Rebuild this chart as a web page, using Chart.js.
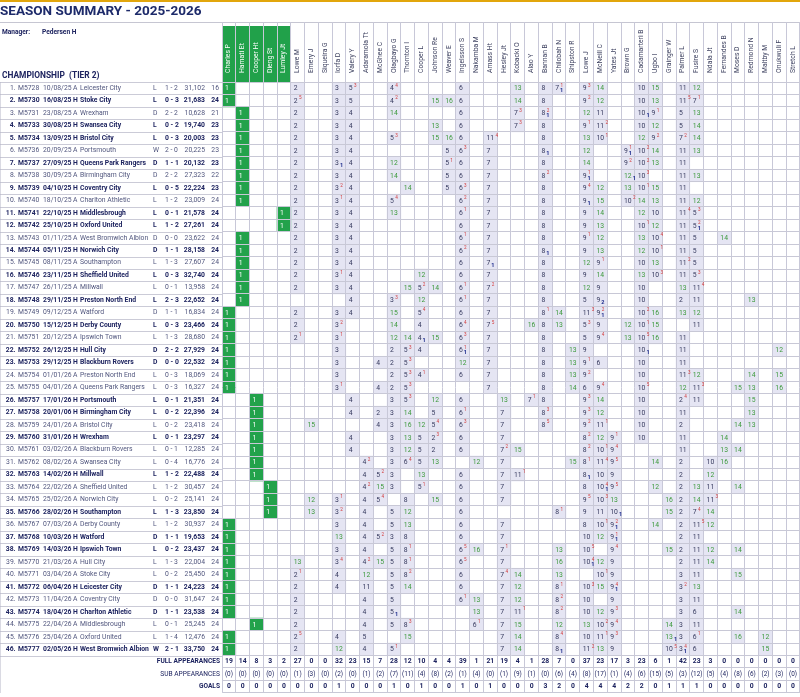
<!DOCTYPE html>
<html>
<head>
<meta charset="utf-8">
<title>Season Summary 2025-2026</title>
<script src="https://cdn.jsdelivr.net/npm/chart.js@4.4.1/dist/chart.umd.min.js"></script>
<style>
  html, body { margin: 0; padding: 0; background: #fff; overflow: hidden; }
  #wrap { position: relative; width: 802px; height: 700px; }
</style>
</head>
<body>
<div id="wrap"><canvas id="summaryChart"></canvas></div>
<script>
// squad columns (first five are goalkeepers)
const players = ['Charles P', 'Hamati Et', 'Cooper Ht', 'Dieng St', 'Lumley Jt', 'Lowe M', 'Emery J', 'Siqueira G',
  'Iorfa D', 'Valery Y', 'Adaramola Tt', 'McGhee C', 'Olagbayo G', 'Thornton I', 'Cooper L', 'Johnson Re', 'Weaver E',
  'Ingelsson S', 'Nakamba M', 'Amass Ht', 'Hesley Jt', 'Kobacki O', 'Alao Y', 'Bannan B', 'Chilobah N', 'Shipston R',
  'Lowe J', 'McNeill C', 'Yates Jt', 'Brown G', 'Cadamarteri B', 'Ugbo I', 'Grainger W', 'Palmer L', 'Fusire S',
  'Ndala Jt', 'Fernandes B', 'Moses D', 'Redmond N', 'Maltby M', 'Onukwuli F', 'Stretch L'];
const keepers = 5;

// match list
const matchCodes = ['M5728', 'M5730', 'M5731', 'M5733', 'M5734', 'M5736', 'M5737', 'M5738', 'M5739', 'M5740',
  'M5741', 'M5742', 'M5743', 'M5744', 'M5745', 'M5746', 'M5747', 'M5748', 'M5749', 'M5750', 'M5751', 'M5752',
  'M5753', 'M5754', 'M5755', 'M5757', 'M5758', 'M5759', 'M5760', 'M5761', 'M5762', 'M5763', 'M5764', 'M5765',
  'M5766', 'M5767', 'M5768', 'M5769', 'M5770', 'M5771', 'M5772', 'M5773', 'M5774', 'M5775', 'M5776', 'M5777'];
const matchDates = ['10/08/25', '16/08/25', '23/08/25', '30/08/25', '13/09/25', '20/09/25', '27/09/25', '30/09/25',
  '04/10/25', '18/10/25', '22/10/25', '25/10/25', '01/11/25', '05/11/25', '08/11/25', '23/11/25', '26/11/25',
  '29/11/25', '09/12/25', '15/12/25', '20/12/25', '26/12/25', '29/12/25', '01/01/26', '04/01/26', '17/01/26',
  '20/01/06', '24/01/26', '31/01/26', '03/02/26', '08/02/26', '14/02/26', '22/02/26', '25/02/26', '28/02/26',
  '07/03/26', '10/03/26', '14/03/26', '21/03/26', '03/04/26', '06/04/26', '11/04/26', '18/04/26', '22/04/26',
  '25/04/26', '02/05/26'];
const venues = ['A', 'H', 'A', 'H', 'H', 'A', 'H', 'A', 'H', 'A', 'H', 'H', 'A', 'H', 'A', 'H', 'A', 'H', 'A', 'H',
  'A', 'H', 'H', 'A', 'A', 'H', 'H', 'A', 'H', 'A', 'A', 'H', 'A', 'A', 'H', 'A', 'H', 'H', 'A', 'A', 'H', 'A', 'H',
  'A', 'A', 'H'];
const opponents = ['Leicester City', 'Stoke City', 'Wrexham', 'Swansea City', 'Bristol City', 'Portsmouth',
  'Queens Park Rangers', 'Birmingham City', 'Coventry City', 'Charlton Athletic', 'Middlesbrough', 'Oxford United',
  'West Bromwich Albion', 'Norwich City', 'Southampton', 'Sheffield United', 'Millwall', 'Preston North End',
  'Watford', 'Derby County', 'Ipswich Town', 'Hull City', 'Blackburn Rovers', 'Preston North End',
  'Queens Park Rangers', 'Portsmouth', 'Birmingham City', 'Bristol City', 'Wrexham', 'Blackburn Rovers',
  'Swansea City', 'Millwall', 'Sheffield United', 'Norwich City', 'Southampton', 'Derby County', 'Watford',
  'Ipswich Town', 'Hull City', 'Stoke City', 'Leicester City', 'Coventry City', 'Charlton Athletic',
  'Middlesbrough', 'Oxford United', 'West Bromwich Albion'];
const results = ['L', 'L', 'D', 'L', 'L', 'W', 'D', 'D', 'L', 'L', 'L', 'L', 'D', 'D', 'L', 'L', 'L', 'L', 'D', 'L',
  'L', 'D', 'D', 'L', 'L', 'L', 'L', 'L', 'L', 'L', 'L', 'L', 'L', 'L', 'L', 'L', 'D', 'L', 'L', 'L', 'D', 'D', 'D',
  'L', 'L', 'W'];
const scores = ['1 - 2', '0 - 3', '2 - 2', '0 - 2', '0 - 3', '2 - 0', '1 - 1', '2 - 2', '0 - 5', '1 - 2', '0 - 1',
  '1 - 2', '0 - 0', '1 - 1', '1 - 3', '0 - 3', '0 - 1', '2 - 3', '1 - 1', '0 - 3', '1 - 3', '2 - 2', '0 - 0', '0 - 3',
  '0 - 3', '0 - 1', '0 - 2', '0 - 2', '0 - 1', '0 - 1', '0 - 4', '1 - 2', '1 - 2', '0 - 2', '1 - 3', '1 - 2', '1 - 1',
  '0 - 2', '1 - 3', '0 - 2', '1 - 1', '0 - 0', '1 - 1', '0 - 1', '1 - 4', '2 - 1'];
const attendances = ['31,102', '21,683', '10,628', '19,740', '20,003', '20,225', '20,132', '27,323', '22,224',
  '23,009', '21,578', '27,261', '23,622', '28,158', '27,607', '32,740', '13,958', '22,652', '16,834', '23,466',
  '28,680', '27,929', '22,532', '18,069', '16,327', '21,351', '22,396', '23,418', '23,297', '12,285', '16,776',
  '22,488', '30,457', '25,141', '23,850', '30,937', '19,653', '23,437', '22,004', '25,450', '24,223', '31,647',
  '23,538', '25,245', '12,476', '33,750'];
const positions = [16, 24, 21, 23, 23, 23, 23, 22, 23, 24, 24, 24, 24, 24, 24, 24, 24, 24, 24, 24, 24, 24, 24, 24,
  24, 24, 24, 24, 24, 24, 24, 24, 24, 24, 24, 24, 24, 24, 24, 24, 24, 24, 24, 24, 24, 24];

// line-ups: "column:shirt" with ^n = substitution mark, _n = goals
const lineups = [
  '0:1 5:2 8:3 9:5^3 12:4^4 17:6 21:13 23:8 24:7^1_1 26:9^3 27:14 30:10 31:15 33:11 34:12',
  '0:1 5:2^5 8:3 9:5 12:4^2 15:15 16:16 17:6 21:14 23:8 26:9^2 27:12 30:10 31:13 33:11^5 34:7^1',
  '1:1 5:2 8:3 9:4 12:14 17:6 21:7^3 23:8^2_1 26:12 27:11 30:10_1 31:9^1 33:5 34:13',
  '1:1 5:2 8:3 9:4 15:13 17:6 21:7^3 23:8 26:9^1 27:11^2 30:10 31:12 33:5 34:14',
  '1:1 5:2 8:3 9:4 12:5^3 15:15 16:16 17:6 19:11^4 23:8 26:13 27:10^1 30:12 31:9^2 33:7^2 34:14',
  '1:1 5:2 8:3 9:4 16:5 17:6^3 19:7 23:8_1 26:12 29:9^1_1 30:10^2 31:14 33:11 34:13',
  '1:1 5:2 8:3_1 9:4 12:12 16:5^1 17:6 19:7 23:8 26:14 29:9^2 30:10^2 31:13 33:11',
  '1:1 5:2 8:3 9:4 12:14 16:5 17:6 19:7 23:8^2 26:9^1_1 29:12_1 30:10^3 33:11 34:13',
  '1:1 5:2 8:3^2 9:4 13:14 16:5 17:6^3 19:7 23:8 26:9^4 27:12 29:13 30:10^1 31:15 33:11',
  '1:1 5:2 8:3^1 9:4 12:5^4 17:6^2 19:7 23:8 26:9_1 27:15 29:10^2 30:14 31:13 33:11 34:12',
  '4:1 5:2 8:3 9:4 12:13 17:6^1 19:7 23:8 26:9 27:14 30:12 31:10 33:11^4 34:5^3',
  '4:1 5:2 8:3 9:4 17:6 19:7 23:8 26:9 27:13 30:10^1 31:12 33:11 34:5^2_1',
  '1:1 5:2 8:3 9:4 17:6^1 19:7 23:8 26:9^1 27:12 30:13 31:10^4 33:11 34:5 36:14',
  '1:1 5:2 8:3 9:4 17:6^2 19:7 23:8_1 26:9 27:13 30:12 31:10^1 33:11 34:5',
  '1:1 5:2 8:3 9:4 17:6 19:7_1 23:8 26:12 27:9^1 30:10 31:13 33:11^2 34:5',
  '1:1 5:2 8:3^1 9:4 14:12 17:6 19:7 23:8 26:9 27:14 30:13 31:10^3 33:11 34:5^3',
  '1:1 5:2 8:3 9:4 13:15 14:5^2 15:14 17:6^1 19:7^2 23:8 26:12 27:9 30:10 33:13 34:11^4',
  '1:1 9:4 12:3^3 14:12 17:6^1 19:7 23:8 26:5 27:9_2 30:10 33:2 34:11 38:13',
  '0:1 5:2 8:3 9:4 12:15 14:5^4 17:6 19:7 23:8^1 24:14 26:11^3 27:9^2_1 30:10^2 31:16 33:13 34:12',
  '0:1 5:2 8:3^2 12:14 14:4 17:6^4 19:7^5 22:16 23:8 24:13 26:5^3 27:9 29:12 30:10^1 31:15 34:11',
  '0:1 5:2^1 8:3^1 12:12 13:14 14:4_1 15:15 17:6^3 19:7 23:8 26:5 27:9^4 29:13 30:10^5 31:16 33:11',
  '0:1 8:3 12:2 13:5^3 14:4 17:6^1_1 19:7 23:8 25:13 26:9 30:10_1 33:11 40:12',
  '0:1 8:3 11:4 12:2 13:5^3 17:12 19:7 23:8 25:13 26:9^1 27:6 30:10 33:11',
  '0:1 8:3 12:2 13:5^3 14:4^1 17:6 19:7 23:8 25:13 26:9^2 30:10 33:11^3 34:12 38:14 40:15',
  '0:1 8:3^1 11:4 12:2 13:5^3 19:7 23:8 25:14 26:6 27:9^4 30:10^5 33:12 34:11^3 37:15 38:13 40:16',
  '2:1 9:4 12:3 13:5^3 15:12 17:6 20:13 22:7^1 23:8 26:9^3 27:14 30:10 33:2^4 34:11 38:15',
  '2:1 9:4 11:2 12:3 13:14 15:5 17:6^1 20:7 23:8^3 26:9^3 27:12 30:10 33:11 38:13',
  '2:1 6:15 11:4 12:3 13:16 14:12 15:5^4 17:6^3 20:7 23:8^5 26:9^2 27:11^1 30:10 33:2 37:14 38:13',
  '2:1 9:4 12:3 13:13 14:5 15:2^3 17:6 20:7 26:8^2 27:12 28:9^1 30:10 33:11 36:14',
  '2:1 9:4 12:3 13:12 14:5 15:2 17:6 20:7^2 21:15 26:8^2 27:10^1 28:9^4 33:11 36:13 37:14',
  '2:1 10:4^2 12:3 13:6^4 14:5 15:13 18:12 20:7 25:15 26:8^1 27:11^4 28:9^5 31:14 33:2 35:10 36:16',
  '2:1 10:4 11:5^2 12:3 14:13 17:6 20:7 21:11^1 26:8_1 27:10 28:9 33:2 35:12',
  '3:1 10:4^2 11:15 12:3 14:5^1 17:6 20:7 26:8 27:10^4_1 28:9^5 31:12 33:2 34:13 35:11 37:14',
  '3:1 6:12 8:3^1 10:4 11:5^4 13:8 15:15 17:6 20:7 26:9^5 27:10^3 28:13 32:16 33:2 34:14 35:11^3',
  '3:1 6:13 8:3^2 10:4 12:5 13:12 17:6 24:8^1 26:9 27:11 28:10_1 32:15 33:2 34:7^4 35:14',
  '0:1 8:3 10:4 12:5 13:13 17:6 20:7 26:8 27:10^1 28:9^2_1 31:14 33:2 34:11^5 35:12',
  '0:1 8:13 10:4 11:5^2 12:3 13:8 17:6 20:7 26:10 27:12 28:9^1_1 33:2 34:11',
  '0:1 8:3 10:4 12:5 13:8^1 17:6^5 18:16 20:7^1 24:13 26:10^5 28:9^4 32:15 33:2 34:11 35:12 37:14',
  '0:1 5:13 8:3^4 10:4^2 11:15 12:5 13:8^1 17:6^5 20:7 24:16 26:10^4_1 27:12 28:9 33:2 34:11 35:14',
  '0:1 5:2^1 8:4 10:12 12:5 13:8^2 17:6 20:7^4 21:14 24:13 27:10^1 28:9 33:3 34:11 37:15',
  '0:1 5:2 8:4 10:11 12:5 13:14 17:6 20:7 21:12 24:8^1 26:10^3 27:15 28:9^4_1 33:3^2 34:13',
  '0:1 5:2 10:4 12:5 17:6^1 18:13 20:7 21:12 24:8^2 26:10 28:9 33:3 34:11',
  '0:1 5:2 10:4 12:5_1 18:13 20:7 21:11^1 24:8^2 26:10 27:12 28:9^3 33:3 34:6 37:14',
  '2:1 5:2 10:4 12:5 13:8^3 18:6^1 20:7 21:15 24:12 26:13 27:10^2 28:9^4 32:14 33:3 34:11',
  '0:1 5:2^5 8:4 10:5 13:15 20:7 21:14 24:8^4 26:10 27:11^1 28:9^3 32:13_1 33:3 34:6^1 37:16 39:12',
  '0:1 5:2 8:12 10:4 12:5^1 20:7 21:14 24:8_1 26:11^2 27:13 28:9 32:10^5 33:3^4_1 34:6 39:15'
];

// season totals per player
const fullApps = [19, 14, 8, 3, 2, 27, 0, 0, 32, 23, 15, 7, 28, 12, 10, 4, 4, 39, 1, 21, 19,
  4, 1, 28, 7, 0, 37, 23, 17, 3, 23, 6, 1, 42, 23, 3, 0, 0, 0, 0, 0, 0];
const subApps = [0, 0, 0, 0, 0, 1, 3, 0, 2, 0, 1, 2, 7, 11, 4, 8, 2, 1, 4, 0, 1,
  9, 1, 0, 6, 4, 8, 17, 1, 4, 6, 15, 5, 3, 12, 5, 4, 8, 6, 2, 3, 0];
const goals = [0, 0, 0, 0, 0, 0, 0, 0, 1, 0, 0, 0, 1, 0, 1, 0, 0, 1, 0, 1, 0,
  0, 0, 3, 2, 0, 4, 4, 4, 2, 2, 0, 1, 1, 1, 0, 0, 0, 0, 0, 0, 0];
const footerLabels = ['FULL APPEARANCES', 'SUB APPEARANCES', 'GOALS'];

const NAVY = '#1e2460';
const GREY_NAVY = '#51567e';
const FONT = 'Roboto';

// build the cells
const footerKeys = ['FULL', 'SUB', 'GOALS'];
const rowKeys = matchCodes.concat(footerKeys);
const keeperCells = [];
const outfieldCells = [];
lineups.forEach(function (line, r) {
    line.split(' ').forEach(function (tok) {
        const parts = tok.split(':');
        const col = parseInt(parts[0]);
        const txt = parts[1];
        const cell = {
            x: [col - 0.5, col + 0.5],
            y: matchCodes[r],
            num: txt.match(/^\d+/)[0],
            sup: (txt.match(/\^(\d+)/) || [])[1] || '',
            goal: (txt.match(/_(\d+)/) || [])[1] || ''
        };
        if (col < keepers) keeperCells.push(cell); else outfieldCells.push(cell);
    });
});

const pad3 = ['', '', ''];
function isHome(i) { return venues[i] === 'H'; }

function sideAxis(labels, weight, width, align, padding) {
    return {
        type: 'category', position: 'left', weight: weight, labels: labels, offset: true,
        grid: { display: false, drawTicks: false },
        border: { display: false },
        ticks: {
            autoSkip: false, crossAlign: align, padding: padding,
            font: function (c) {
                return { family: FONT, size: 6.8, weight: isHome(c.index) ? 'bold' : 'normal' };
            },
            color: function (c) { return isHome(c.index) ? NAVY : GREY_NAVY; }
        },
        afterFit: function (s) { s.width = width; }
    };
}

const colTicks = function (s) { s.ticks = players.map(function (p, i) { return { value: i }; }); };

// texts and table decorations
const tableDecor = {
    id: 'tableDecor',
    beforeDraw(chart) {
        const ctx = chart.ctx;
        const area = chart.chartArea;
        const x = chart.scales.x, y = chart.scales.y, hdr = chart.scales.x;
        ctx.save();
        ctx.fillStyle = '#e2a60c';
        ctx.fillRect(0, 0, chart.width, 2);
        ctx.strokeStyle = '#c6c6d2';
        ctx.lineWidth = 1;
        ctx.beginPath();
        ctx.moveTo(0, Math.round(hdr.top) + 0.5);
        ctx.lineTo(chart.width, Math.round(hdr.top) + 0.5);
        ctx.stroke();

        const colStep = x.getPixelForValue(1) - x.getPixelForValue(0);
        ctx.fillStyle = '#21a14a';
        for (let c = 0; c < keepers; c++) {
            ctx.fillRect(x.getPixelForValue(c) - colStep / 2, hdr.top + 4, colStep, area.top - hdr.top - 4);
        }

        const rowStep = y.getPixelForValue(1) - y.getPixelForValue(0);
        ctx.strokeStyle = '#cbcbd7';
        ctx.beginPath();
        for (let r = 0; r <= matchCodes.length; r++) {
            const py = Math.round(y.getPixelForValue(r) - rowStep / 2) + 0.5;
            ctx.moveTo(0, py);
            ctx.lineTo(area.left, py);
        }
        ctx.stroke();
        ctx.restore();
    },
    afterDraw(chart) {
        const ctx = chart.ctx;
        const area = chart.chartArea;
        const x = chart.scales.x, y = chart.scales.y;
        ctx.save();
        ctx.textBaseline = 'middle';

        // header block on the left
        ctx.fillStyle = NAVY;
        ctx.font = 'bold 6.6px ' + FONT;
        ctx.fillText('Manager:', 2, 32);
        ctx.fillText('Pedersen H', 42, 32);
        ctx.font = 'bold 8.4px ' + FONT;
        ctx.fillText('CHAMPIONSHIP  (TIER 2)', 2, 76);

        // cell contents
        chart.data.datasets.forEach(function (ds, di) {
            const meta = chart.getDatasetMeta(di);
            meta.data.forEach(function (bar, i) {
                const cell = ds.data[i];
                const p = bar.getProps(['x', 'base', 'y'], true);
                const left = Math.min(p.x, p.base) + 3;
                ctx.textAlign = 'left';
                ctx.font = '6.8px ' + FONT;
                if (di === 0) ctx.fillStyle = '#ffffff';
                else ctx.fillStyle = parseInt(cell.num) >= 12 ? '#3d9a3d' : '#363a5e';
                ctx.fillText(cell.num, left, p.y + 0.5);
                const w = ctx.measureText(cell.num).width;
                if (cell.sup) {
                    ctx.font = '4.6px ' + FONT;
                    ctx.fillStyle = '#d33b3b';
                    ctx.fillText(cell.sup, left + w + 1.4, p.y - 2.6);
                }
                if (cell.goal) {
                    ctx.font = 'bold 5.6px ' + FONT;
                    ctx.fillStyle = '#1b2a8c';
                    ctx.fillText(cell.goal, left + w + 1, p.y + 2.8);
                }
            });
        });

        // season totals
        ctx.fillStyle = NAVY;
        footerKeys.forEach(function (key, k) {
            const fy = y.getPixelForValue(key);
            ctx.textAlign = 'right';
            ctx.font = (k === 1 ? '' : 'bold ') + '6.6px ' + FONT;
            ctx.fillText(footerLabels[k], area.left - 2, fy);
        });
        ctx.textAlign = 'center';
        const yFull = y.getPixelForValue('FULL');
        const ySub = y.getPixelForValue('SUB');
        const yGoals = y.getPixelForValue('GOALS');
        players.forEach(function (p, c) {
            const cx = x.getPixelForValue(c);
            ctx.font = 'bold 6.8px ' + FONT;
            ctx.fillText(String(fullApps[c]), cx, yFull);
            ctx.font = '6.4px ' + FONT;
            ctx.fillText('(' + subApps[c] + ')', cx, ySub);
            ctx.font = 'bold 6.8px ' + FONT;
            ctx.fillText(String(goals[c]), cx, yGoals);
        });
        ctx.restore();
    }
};

Chart.defaults.font.family = FONT;

const ctx = document.getElementById('summaryChart').getContext('2d');
const summaryChart = new Chart(ctx, {
    type: 'bar',
    data: {
        labels: rowKeys,
        datasets: [{
            label: 'Goalkeeper',
            data: keeperCells,
            backgroundColor: '#22a24b',
            xAxisID: 'x',
            yAxisID: 'y'
        }, {
            label: 'Appearance',
            data: outfieldCells,
            backgroundColor: '#e5e5f3',
            xAxisID: 'x',
            yAxisID: 'y'
        }]
    },
    options: {
        indexAxis: 'y',
        responsive: true,
        maintainAspectRatio: false,
        animation: false,
        layout: { padding: 0 },
        datasets: {
            bar: { grouped: false, barPercentage: 1, categoryPercentage: 1, borderWidth: 0 }
        },
        plugins: {
            legend: { display: false },
            tooltip: { enabled: false },
            title: {
                display: true,
                text: 'SEASON SUMMARY - 2025-2026',
                align: 'start',
                color: '#1d2a6a',
                font: { family: FONT, size: 13.5, weight: 'bold' },
                padding: { top: 4, bottom: 1.8 }
            }
        },
        scales: {
            // player names along the top
            x: {
                type: 'linear', position: 'top', weight: 1,
                min: -0.5, max: players.length - 0.5,
                afterBuildTicks: colTicks,
                afterFit: function (s) { s.height = 60; },
                grid: { display: false, drawTicks: false },
                border: { display: false },
                ticks: {
                    autoSkip: false, minRotation: 90, maxRotation: 90, padding: 9, labelOffset: 8,
                    font: { size: 6.8 },
                    color: function (c) { return c.index < keepers ? '#ffffff' : '#3b3f5e'; },
                    callback: function (v, i) { return players[i]; }
                }
            },
            // column rules, running up through the header
            x2: {
                type: 'linear', position: 'top', weight: 0,
                min: -0.5, max: players.length - 0.5,
                afterBuildTicks: colTicks,
                afterFit: function (s) { s.height = 0; },
                grid: { offset: true, color: '#c8c8d8', tickLength: 60, z: 1 },
                border: { display: false },
                ticks: { display: false }
            },
            y: {
                type: 'category', position: 'left', weight: 0, offset: true,
                grid: { offset: true, color: '#c8c8d6', drawTicks: false, z: 1 },
                border: { display: true, color: '#b5b5c8' },
                ticks: { display: false },
                afterFit: function (s) { s.width = 0; }
            },
            yIdx: sideAxis(matchCodes.map(function (m, i) { return (i + 1) + '.'; }).concat(pad3), 9, 18, 'near', 2.5),
            yCode: sideAxis(matchCodes.concat(pad3), 8, 25, 'far', 0),
            yDate: sideAxis(matchDates.concat(pad3), 7, 30, 'far', 0),
            yVenue: sideAxis(venues.concat(pad3), 6, 7, 'far', 0),
            yOpp: sideAxis(opponents.concat(pad3), 5, 73, 'far', 0),
            yRes: sideAxis(results.concat(pad3), 4, 12, 'far', 0),
            yScore: sideAxis(scores.concat(pad3), 3, 19, 'far', 0),
            yAtt: sideAxis(attendances.concat(pad3), 2, 22, 'near', 1),
            yPos: sideAxis(positions.map(String).concat(pad3), 1, 16, 'near', 3)
        }
    },
    plugins: [tableDecor]
});
</script>
</body>
</html>
